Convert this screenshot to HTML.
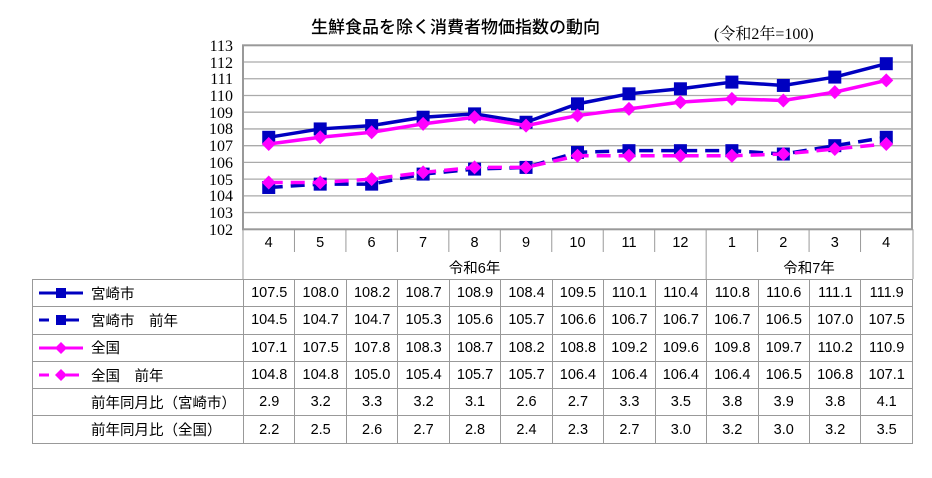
<!DOCTYPE html>
<html><head><meta charset="utf-8"><style>
body{margin:0;width:932px;height:478px;background:#fff;position:relative;overflow:hidden;font-family:"Liberation Sans","Noto Sans CJK JP",sans-serif}
.t{position:absolute;white-space:nowrap}
table{position:absolute;left:32px;top:279px;border-collapse:collapse;table-layout:fixed}
td{border:1px solid #999;height:26.3px;padding:0;font-size:14.5px;text-align:center;color:#000}
td.l{text-align:left;padding-left:58px;position:relative}
</style></head><body>
<div class="t" style="left:311px;top:13px;font-size:17px;font-weight:500">生鮮食品を除く消費者物価指数の動向</div>
<div class="t" style="left:714px;top:21px;font-size:16px;font-family:'Liberation Serif','Noto Serif CJK SC',serif">(令和2年=100)</div>
<svg id="s" width="932" height="478" style="position:absolute;left:0;top:0">
<g font-family="Liberation Serif,serif" font-size="16" text-anchor="end" fill="#000">
<text x="233" y="51">113</text><text x="233" y="68">112</text><text x="233" y="84">111</text><text x="233" y="101">110</text><text x="233" y="118">109</text><text x="233" y="134">108</text><text x="233" y="151">107</text><text x="233" y="168">106</text><text x="233" y="185">105</text><text x="233" y="201">104</text><text x="233" y="218">103</text><text x="233" y="235">102</text>
</g>
<g font-size="14.5" text-anchor="middle" font-family="Liberation Sans,sans-serif">
<text x="268.7" y="247">4</text><text x="320.2" y="247">5</text><text x="371.6" y="247">6</text><text x="423.1" y="247">7</text><text x="474.6" y="247">8</text><text x="526" y="247">9</text><text x="577.5" y="247">10</text><text x="629" y="247">11</text><text x="680.4" y="247">12</text><text x="731.9" y="247">1</text><text x="783.3" y="247">2</text><text x="834.8" y="247">3</text><text x="886.2" y="247">4</text>
<text x="474.6" y="273" font-family="Liberation Sans,Noto Sans CJK JP,sans-serif">令和6年</text>
<text x="809" y="273" font-family="Liberation Sans,Noto Sans CJK JP,sans-serif">令和7年</text>
</g>
</svg>
<table>
<colgroup><col style="width:211px"><col span="13" style="width:51.46px"></colgroup>
<tr><td class="l"><svg style="position:absolute;left:6px;top:6px" width="44" height="14"><line x1="0" y1="7" x2="44" y2="7" stroke="#0000c0" stroke-width="3"/><rect x="17" y="2" width="10" height="10" fill="#0000c0"/></svg>宮崎市</td><td>107.5</td><td>108.0</td><td>108.2</td><td>108.7</td><td>108.9</td><td>108.4</td><td>109.5</td><td>110.1</td><td>110.4</td><td>110.8</td><td>110.6</td><td>111.1</td><td>111.9</td></tr>
<tr><td class="l"><svg style="position:absolute;left:6px;top:6px" width="44" height="14"><line x1="0" y1="7" x2="10" y2="7" stroke="#0000c0" stroke-width="3"/><line x1="27" y1="7" x2="40" y2="7" stroke="#0000c0" stroke-width="3"/><rect x="17" y="2" width="10" height="10" fill="#0000c0"/></svg>宮崎市　前年</td><td>104.5</td><td>104.7</td><td>104.7</td><td>105.3</td><td>105.6</td><td>105.7</td><td>106.6</td><td>106.7</td><td>106.7</td><td>106.7</td><td>106.5</td><td>107.0</td><td>107.5</td></tr>
<tr><td class="l"><svg style="position:absolute;left:6px;top:6px" width="44" height="14"><line x1="0" y1="7" x2="44" y2="7" stroke="#ff00ff" stroke-width="3"/><polygon points="22,1 28,7 22,13 16,7" fill="#ff00ff"/></svg>全国</td><td>107.1</td><td>107.5</td><td>107.8</td><td>108.3</td><td>108.7</td><td>108.2</td><td>108.8</td><td>109.2</td><td>109.6</td><td>109.8</td><td>109.7</td><td>110.2</td><td>110.9</td></tr>
<tr><td class="l"><svg style="position:absolute;left:6px;top:6px" width="44" height="14"><line x1="0" y1="7" x2="10" y2="7" stroke="#ff00ff" stroke-width="3"/><line x1="27" y1="7" x2="40" y2="7" stroke="#ff00ff" stroke-width="3"/><polygon points="22,1 28,7 22,13 16,7" fill="#ff00ff"/></svg>全国　前年</td><td>104.8</td><td>104.8</td><td>105.0</td><td>105.4</td><td>105.7</td><td>105.7</td><td>106.4</td><td>106.4</td><td>106.4</td><td>106.4</td><td>106.5</td><td>106.8</td><td>107.1</td></tr>
<tr><td class="l">前年同月比（宮崎市）</td><td>2.9</td><td>3.2</td><td>3.3</td><td>3.2</td><td>3.1</td><td>2.6</td><td>2.7</td><td>3.3</td><td>3.5</td><td>3.8</td><td>3.9</td><td>3.8</td><td>4.1</td></tr>
<tr><td class="l">前年同月比（全国）</td><td>2.2</td><td>2.5</td><td>2.6</td><td>2.7</td><td>2.8</td><td>2.4</td><td>2.3</td><td>2.7</td><td>3.0</td><td>3.2</td><td>3.0</td><td>3.2</td><td>3.5</td></tr>
</table>
<script>
var s=document.getElementById('s'),ns='http://www.w3.org/2000/svg';
function el(n,a){var e=document.createElementNS(ns,n);for(var k in a)e.setAttribute(k,a[k]);s.appendChild(e);return e;}
var L=243,R=912,T=45.3,B=229.3,cw=(R-L)/13;
function X(i){return L+cw*(i+.5)}function Y(v){return T+(113-v)*(B-T)/11}
for(var v=103;v<=112;v++)el('line',{x1:L,x2:R,y1:Y(v),y2:Y(v),stroke:'#aaa','stroke-width':1.3});
el('rect',{x:L,y:T,width:R-L,height:B-T,fill:'none',stroke:'#999','stroke-width':2});
el('line',{x1:L,y1:B,x2:L,y2:279,stroke:'#999'});el('line',{x1:R+1,y1:B,x2:R+1,y2:279,stroke:'#999'});
for(var i=1;i<13;i++)el('line',{x1:L+cw*i,y1:B,x2:L+cw*i,y2:252,stroke:'#999'});
el('line',{x1:L+cw*9,y1:252,x2:L+cw*9,y2:279,stroke:'#999'});
var D=[[107.5,108.0,108.2,108.7,108.9,108.4,109.5,110.1,110.4,110.8,110.6,111.1,111.9],
[104.5,104.7,104.7,105.3,105.6,105.7,106.6,106.7,106.7,106.7,106.5,107.0,107.5],
[107.1,107.5,107.8,108.3,108.7,108.2,108.8,109.2,109.6,109.8,109.7,110.2,110.9],
[104.8,104.8,105.0,105.4,105.7,105.7,106.4,106.4,106.4,106.4,106.5,106.8,107.1]];
var C=['#0000c0','#0000c0','#ff00ff','#ff00ff'];
[1,3,0,2].forEach(function(k){
 var p=D[k].map(function(v,i){return X(i)+','+Y(v)}).join(' ');
 var a={points:p,fill:'none',stroke:C[k],'stroke-width':3.5};
 if(k%2)a['stroke-dasharray']='14,8';
 el('polyline',a);
 D[k].forEach(function(v,i){var x=X(i),y=Y(v);
  if(k<2)el('rect',{x:x-6.5,y:y-6.5,width:13,height:13,fill:C[k]});
  else el('polygon',{points:(x)+','+(y-7)+' '+(x+7)+','+y+' '+x+','+(y+7)+' '+(x-7)+','+y,fill:C[k]});
 });
});
</script>
</body></html>
